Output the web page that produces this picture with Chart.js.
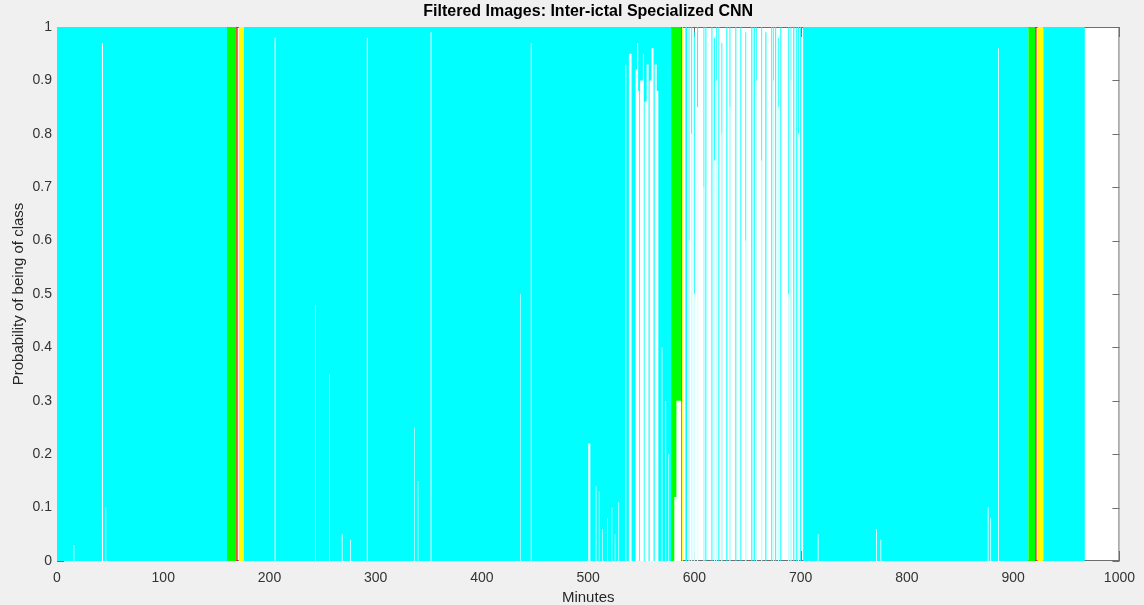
<!DOCTYPE html>
<html>
<head>
<meta charset="utf-8">
<script src="https://cdn.jsdelivr.net/npm/chart.js@4.4.1/dist/chart.umd.min.js"></script>
<style>
  html, body { margin: 0; padding: 0; background: #f0f0f0; }
  #wrap { width: 1144px; height: 605px; }
</style>
</head>
<body>
<div id="wrap"><canvas id="probChart" width="1144" height="605"></canvas></div>
<script>
// DATI: classe inter-ictale (ciano), minuto di inizio di ogni tratto,
// probabilita massima e quota bianca dal basso (immagini filtrate)
const cyanMin = [
  0, 15.5, 16.3, 42.3, 43.3, 45.6, 46.3, 160, 176, 204.8,
  205.8, 242.8, 243.4, 256, 256.6, 268, 268.8, 276, 276.8, 291.6,
  292.6, 336, 336.6, 339.5, 340.1, 351.6, 352.5, 436, 436.6, 445.9,
  446.7, 500, 502, 507, 507.7, 510, 510.7, 513, 513.6, 518, 518.6, 522, 522.6, 525, 525.6, 528.4,
  529.1, 535, 535.8, 538.3, 540.8, 544.6, 546, 547, 548, 548.8,
  551.5, 552.3, 553.1, 555, 556.8, 557.8, 559.5, 561.5, 562.6, 564.5,
  566, 569, 569.8, 572.5, 573.3, 575.5, 576.2, 578, 581, 583,
  587.5, 591.5, 593, 594.5, 595.3, 597, 597.8, 599.5, 600.3, 602.5,
  603.4, 608.5, 609.3, 610.3, 611.2, 616, 616.9, 618.5, 619.3, 620.5,
  621.2, 622.5, 623.4, 625.4, 626.2, 630, 630.9, 633, 633.8, 638.5,
  639.4, 643.2, 644.1, 647.9, 648.7, 653.5, 654.5, 655.8, 656.8, 658,
  658.7, 662.9, 663.7, 666.7, 667.7, 672.3, 673.2, 674.2, 674.9, 676,
  676.9, 678.9, 679.6, 680.8, 681.7, 688.3, 689.1, 690.5, 691.2, 693,
  694, 695.8, 696.8, 697.5, 698.3, 699.5, 700.5, 702.3, 716, 716.8,
  771, 771.8, 775, 775.8, 876, 876.8, 878.5, 879.2, 885.8, 886.6,
  914.3, 928.3, 967.4, 1000
];
const cyanHigh = [
  1, 1, 1, 1, 1, 1, 1, 0, 1, 1,
  1, 1, 1, 1, 1, 1, 1, 1, 1, 1,
  1, 1, 1, 1, 1, 1, 1, 1, 1, 1,
  1, 1, 1, 1, 1, 1, 1, 1, 1, 1, 1, 1, 1, 1, 1, 1,
  1, 1, 1, 1, 1, 1, 1, 1, 1, 1,
  1, 1, 1, 1, 1, 1, 1, 1, 1, 1,
  1, 1, 1, 1, 1, 1, 1, 0, 0, 0,
  0, 1, 0, 1, 0, 1, 0, 0.99, 0, 1,
  0, 1, 0, 1, 0, 1, 0, 0.98, 0, 1,
  0, 1, 0, 0.97, 0, 1, 0, 1, 0, 1,
  0, 1, 0, 0.99, 0, 1, 0, 1, 0, 1,
  0, 1, 0, 0.99, 0, 1, 0, 1, 0, 1,
  0, 0.98, 0, 1, 0, 1, 0, 1, 0, 1,
  0, 1, 0, 1, 0, 1, 0, 1, 1, 1,
  1, 1, 1, 1, 1, 1, 1, 1, 1, 1,
  0, 1, 0, 0
];
const cyanLow = [
  0, 0.03, 0, 0.97, 0, 0.1, 0, 0, 0, 0.98,
  0, 0.48, 0, 0.35, 0, 0.05, 0, 0.04, 0, 0.98,
  0, 0.25, 0, 0.15, 0, 0.99, 0, 0.5, 0, 0.97,
  0, 0.22, 0, 0.14, 0, 0.13, 0, 0.06, 0, 0.08, 0, 0.1, 0, 0.05, 0, 0.11,
  0, 0.93, 0, 0.95, 0, 0.92, 0.97, 0.88, 0, 0.9,
  0.95, 0, 0.86, 0.93, 0, 0.9, 0.96, 0, 0.93, 0.88,
  0, 0.4, 0, 0.3, 0, 0.2, 0, 0, 0.12, 0.3,
  0, 0, 0, 0.6, 0, 0.8, 0, 0.5, 0, 0.85,
  0, 0.7, 0, 0, 0, 0, 0, 0.75, 0, 0.9,
  0, 0, 0, 0.8, 0, 0, 0, 0.85, 0, 0,
  0, 0, 0, 0.6, 0, 0, 0, 0, 0, 0.9,
  0, 0.75, 0, 0, 0, 0, 0, 0.9, 0, 0,
  0, 0.85, 0, 0, 0, 0.5, 0, 0.9, 0, 0,
  0, 0, 0, 0.8, 0, 0, 0, 0, 0.05, 0,
  0.06, 0, 0.04, 0, 0.1, 0, 0.08, 0, 0.96, 0,
  0, 0, 0, 0
];

// pre-ictale (verde), ictale (rosso), post-ictale (giallo)
const greenStart = [160, 578, 914.3];
const greenEnd = [168.8, 587.5, 920.8];
const greenProb = [1, 1, 1];
const redStart = [168.8, 587.5, 920.8];
const redEnd = [170, 588.2, 922];
const redProb = [1, 1, 1];
const yellowStart = [171.2, 588.2, 923];
const yellowEnd = [176, 589, 928.3];
const yellowProb = [1, 1, 1];

const xTickLabels = ['0', '100', '200', '300', '400', '500', '600', '700', '800', '900', '1000'];
const yTickLabels = ['0', '0.1', '0.2', '0.3', '0.4', '0.5', '0.6', '0.7', '0.8', '0.9', '1'];

function stepData(xs, ys) {
  return xs.map((x, i) => ({ x: x, y: ys[i] }));
}

function bandData(starts, ends, probs) {
  const pts = [{ x: 0, y: 0 }];
  starts.forEach((s, i) => {
    pts.push({ x: s, y: probs[i] });
    pts.push({ x: ends[i], y: 0 });
  });
  pts.push({ x: 1000, y: 0 });
  return pts;
}

function area(data, color, order) {
  return {
    data: data,
    backgroundColor: color,
    borderColor: 'rgba(0,0,0,0)',
    borderWidth: 0,
    fill: 'origin',
    stepped: true,
    pointRadius: 0,
    order: order
  };
}

// assi stile MATLAB: sfondo, riquadro e tacche interne sotto i dati
const matlabAxes = {
  id: 'matlabAxes',
  beforeDraw(chart) {
    const { ctx, chartArea: a } = chart;
    const xs = chart.scales.x, ys = chart.scales.y;
    ctx.save();
    ctx.fillStyle = '#f0f0f0';
    ctx.fillRect(0, 0, chart.width, chart.height);
    ctx.fillStyle = '#ffffff';
    ctx.fillRect(a.left, a.top, a.right - a.left, a.bottom - a.top);
    ctx.strokeStyle = '#6e6e6e';
    ctx.lineWidth = 1;
    ctx.strokeRect(a.left + 0.5, a.top + 0.5, a.right - a.left - 1, a.bottom - a.top - 1);
    ctx.beginPath();
    xs.ticks.forEach(t => {
      const px = Math.round(xs.getPixelForValue(t.value)) + 0.5;
      ctx.moveTo(px, a.bottom); ctx.lineTo(px, a.bottom - 10);
      ctx.moveTo(px, a.top); ctx.lineTo(px, a.top + 10);
    });
    ys.ticks.forEach(t => {
      const py = Math.round(ys.getPixelForValue(t.value)) + 0.5;
      ctx.moveTo(a.left, py); ctx.lineTo(a.left + 7, py);
      ctx.moveTo(a.right, py); ctx.lineTo(a.right - 7, py);
    });
    ctx.stroke();
    ctx.restore();
  }
};

Chart.defaults.font.family = "'Liberation Sans', Arial, sans-serif";
Chart.defaults.color = '#333333';

new Chart(document.getElementById('probChart'), {
  type: 'line',
  data: {
    datasets: [
      area(stepData(cyanMin, cyanLow), '#ffffff', 0),
      area(bandData(yellowStart, yellowEnd, yellowProb), '#ffff00', 1),
      area(bandData(redStart, redEnd, redProb), '#ff0000', 2),
      area(bandData(greenStart, greenEnd, greenProb), '#00ff00', 3),
      area(stepData(cyanMin, cyanHigh), '#00ffff', 4)
    ]
  },
  options: {
    responsive: false,
    animation: false,
    devicePixelRatio: 1,
    layout: { padding: { left: 0, right: 22, top: 0, bottom: 0 } },
    plugins: {
      legend: { display: false },
      tooltip: { enabled: false },
      title: {
        display: true,
        fullSize: false,
        text: 'Filtered Images: Inter-ictal Specialized CNN',
        color: '#000000',
        font: { size: 16, weight: 'bold' },
        padding: { top: 2, bottom: 5.8 }
      }
    },
    scales: {
      x: {
        type: 'linear',
        min: 0,
        max: 1000,
        grid: { display: false, drawTicks: false },
        border: { display: false },
        ticks: {
          stepSize: 100,
          padding: 9,
          maxRotation: 0,
          font: { size: 14 },
          callback: (v, i) => xTickLabels[i]
        },
        title: {
          display: true,
          text: 'Minutes',
          color: '#262626',
          font: { size: 15 },
          padding: { top: 0, bottom: -1.5 }
        },
        afterFit: s => { s.height = 44; }
      },
      y: {
        min: 0,
        max: 1,
        grid: { display: false, drawTicks: false },
        border: { display: false },
        ticks: {
          stepSize: 0.1,
          padding: 5,
          font: { size: 14 },
          callback: (v, i) => yTickLabels[i]
        },
        title: {
          display: true,
          text: 'Probability of being of class',
          color: '#262626',
          font: { size: 15 },
          padding: { top: 10, bottom: 0 }
        },
        afterFit: s => { s.width = 57; }
      }
    }
  },
  plugins: [matlabAxes]
});
</script>
</body>
</html>
